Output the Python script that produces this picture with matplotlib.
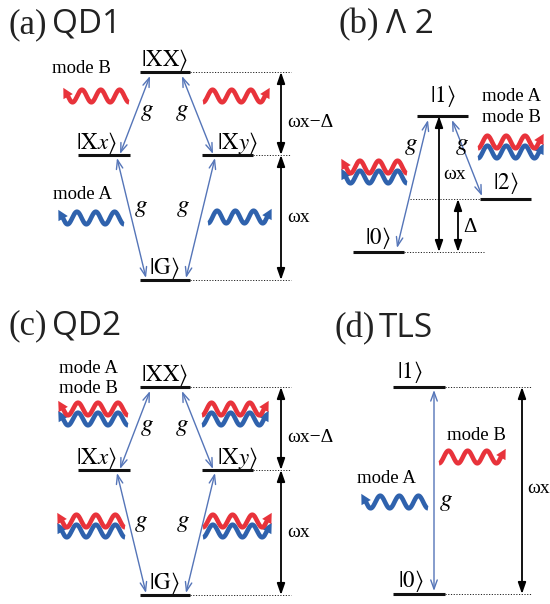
import numpy as np
import matplotlib.pyplot as plt
from matplotlib.patches import FancyArrowPatch, Polygon

plt.rcParams['mathtext.fontset'] = 'stix'

W, H = 550, 604
RED = '#e8333b'
BLUE = '#2f62ad'
GBLUE = '#5575b8'

SERIF = ['Liberation Serif', 'DejaVu Serif']
SANS = ['Open Sans', 'DejaVu Sans']

# panel titles: (tag, name, x_tag, x_name, baseline)
titles = [('(a)', 'QD1', 8, 52, 33),
          ('(b)', 'Λ 2', 339, 386, 33),
          ('(c)', 'QD2', 8, 52, 334),
          ('(d)', 'TLS', 335, 379, 337)]

# biexciton cascade levels (pixel rows), QD2 sits 315 px lower
qd_offsets = [0, 315]
qd_levels = {'XX': (140, 190, 72), 'Xx': (78, 130, 155),
             'Xy': (202, 253, 155), 'G': (140, 190, 280)}
qd_kets = {'XX': r'$|\mathrm{XX}\rangle$', 'Xx': r'$|\mathrm{X}x\rangle$',
           'Xy': r'$|\mathrm{X}y\rangle$', 'G': r'$|\mathrm{G}\rangle$'}
qd_ket_x = {'XX': 164, 'Xx': 96, 'Xy': 237, 'G': 164}
qd_couplings = [((150, 76), (120, 154)), ((182, 76), (213, 154)),
                ((117, 158), (146, 278)), ((215, 158), (186, 278))]

# lambda system
lam_levels = {'1': (417, 468, 116), '2': (480, 531, 199), '0': (353, 404, 252)}
lam_couplings = [((428, 120), (397, 248)), ((452, 120), (482, 196))]

# two-level system
tls_levels = {'1': (393, 445, 387), '0': (393, 445, 594)}

fig = plt.figure(figsize=(5.5, 6.04), dpi=100)
ax = fig.add_axes([0, 0, 1, 1])
ax.set_xlim(0, W)
ax.set_ylim(H, 0)
ax.axis('off')


def level(x0, x1, y):
    ax.plot([x0, x1], [y, y], color='#111111', lw=2.2, solid_capstyle='butt', zorder=3)


def dotted(x0, x1, y):
    ax.plot([x0, x1], [y, y], color='#222222', lw=0.7, ls=(0, (1.2, 1.6)), zorder=1)


def coupling(p, q):
    ax.add_patch(FancyArrowPatch(p, q, arrowstyle='<->,head_length=0.36,head_width=0.13',
                                 mutation_scale=18, lw=1.0, color=GBLUE,
                                 shrinkA=0, shrinkB=0, zorder=2))


def gap(x, y0, y1):
    ax.add_patch(FancyArrowPatch((x, y0), (x, y1), arrowstyle='<|-|>,head_length=0.4,head_width=0.14',
                                 mutation_scale=17, lw=1.3, color='black',
                                 shrinkA=0, shrinkB=0, zorder=2))


def label(x, y, s, size=14, ha='center', **kw):
    ax.text(x, y, s, fontsize=size, ha=ha, va='baseline', family=SERIF, **kw)


def ket(x, y, s):
    label(x, y, s, size=16.5)


def wave(x_head, x_tail, yc, color, amp=6.3, n=3.4):
    # photon: sinusoid running from the tail to an arrowhead at x_head
    s = np.linspace(0, 1, 300)
    x = x_head + s * (x_tail - x_head)
    y = yc - amp * np.cos(2 * np.pi * (n * s + 0.1))
    ax.plot(x[8:], y[8:], color=color, lw=3.3, solid_capstyle='butt', zorder=2)
    d = np.array([x[0] - x[14], y[0] - y[14]])
    d /= np.hypot(*d)
    nrm = np.array([-d[1], d[0]])
    tip = np.array([x[0], y[0]]) + 3.5 * d
    base = np.array([x[0], y[0]]) - 6.5 * d
    ax.add_patch(Polygon([tip, base + 5.3 * nrm, base - 5.3 * nrm],
                         closed=True, color=color, lw=0, zorder=2))


def wave_pair(x_head, x_tail, yc):
    wave(x_head, x_tail, yc + 10, BLUE)
    wave(x_head, x_tail, yc, RED)


for tag, name, xt, xn, yb in titles:
    ax.text(xt, yb, tag, fontsize=25, family=SERIF, va='baseline', color='#222222')
    ax.text(xn, yb, name, fontsize=24, family=SANS, va='baseline', color='#222222')

# (a) QD1 and (c) QD2
for k, oy in enumerate(qd_offsets):
    for key, (x0, x1, y) in qd_levels.items():
        level(x0, x1, y + oy)
        ket(qd_ket_x[key], y + oy - 6, qd_kets[key])
    for p, q in qd_couplings:
        coupling((p[0], p[1] + oy), (q[0], q[1] + oy))
    dotted(190, 291, 72 + oy)
    dotted(253, 291, 155 + oy)
    dotted(190, 291, 280 + oy)
    gap(281, 72 + oy, 155 + oy)
    gap(281, 155 + oy, 280 + oy)
    label(287, 127 + oy, 'ωx−Δ', ha='left')
    label(287, 222 + oy, 'ωx', ha='left')
    for gx, gy in [(147, 116), (182, 116), (141, 212), (183, 212)]:
        label(gx, gy + oy, '$g$', size=18)

label(52, 73, 'mode B', size=13.5, ha='left')
label(53, 199, 'mode A', size=13.5, ha='left')
wave(65, 129, 96, RED)
wave(268, 203, 96, RED)
wave(60, 124, 218, BLUE)
wave(270, 208, 217, BLUE)

label(59, 373, 'mode A', size=13.5, ha='left')
label(59, 393, 'mode B', size=13.5, ha='left')
wave_pair(60, 128, 409)
wave_pair(267, 202, 409)
wave_pair(59, 125, 521)
wave_pair(270, 203, 521)

# (b) Lambda system
for key, (x0, x1, y) in lam_levels.items():
    level(x0, x1, y)
ket(443, 102, r'$|1\rangle$')
ket(506, 189, r'$|2\rangle$')
ket(378, 244, r'$|0\rangle$')
for p, q in lam_couplings:
    coupling(p, q)
dotted(410, 480, 199)
dotted(404, 484, 252)
gap(439, 116, 252)
gap(458, 199, 252)
label(443, 179, 'ωx', ha='left')
label(463, 232, 'Δ', ha='left', size=15)
label(411, 150, '$g$', size=18)
label(462, 150, '$g$', size=18)
label(482, 101, 'mode A', size=13.5, ha='left')
label(482, 122, 'mode B', size=13.5, ha='left')
wave_pair(542, 478, 142)
wave_pair(343, 407, 167)

# (d) two-level system
for key, (x0, x1, y) in tls_levels.items():
    level(x0, x1, y)
ket(410, 378, r'$|1\rangle$')
ket(411, 587, r'$|0\rangle$')
coupling((434, 390), (434, 591))
dotted(445, 532, 387)
dotted(445, 532, 594)
gap(522, 387, 594)
label(527, 493, 'ωx', ha='left')
label(446, 506, '$g$', size=18)
label(447, 440, 'mode B', size=13.5, ha='left')
label(357, 483, 'mode A', size=13.5, ha='left')
wave(504, 439, 457, RED)
wave(363, 428, 502, BLUE)

fig.savefig('out.png', dpi=100)
